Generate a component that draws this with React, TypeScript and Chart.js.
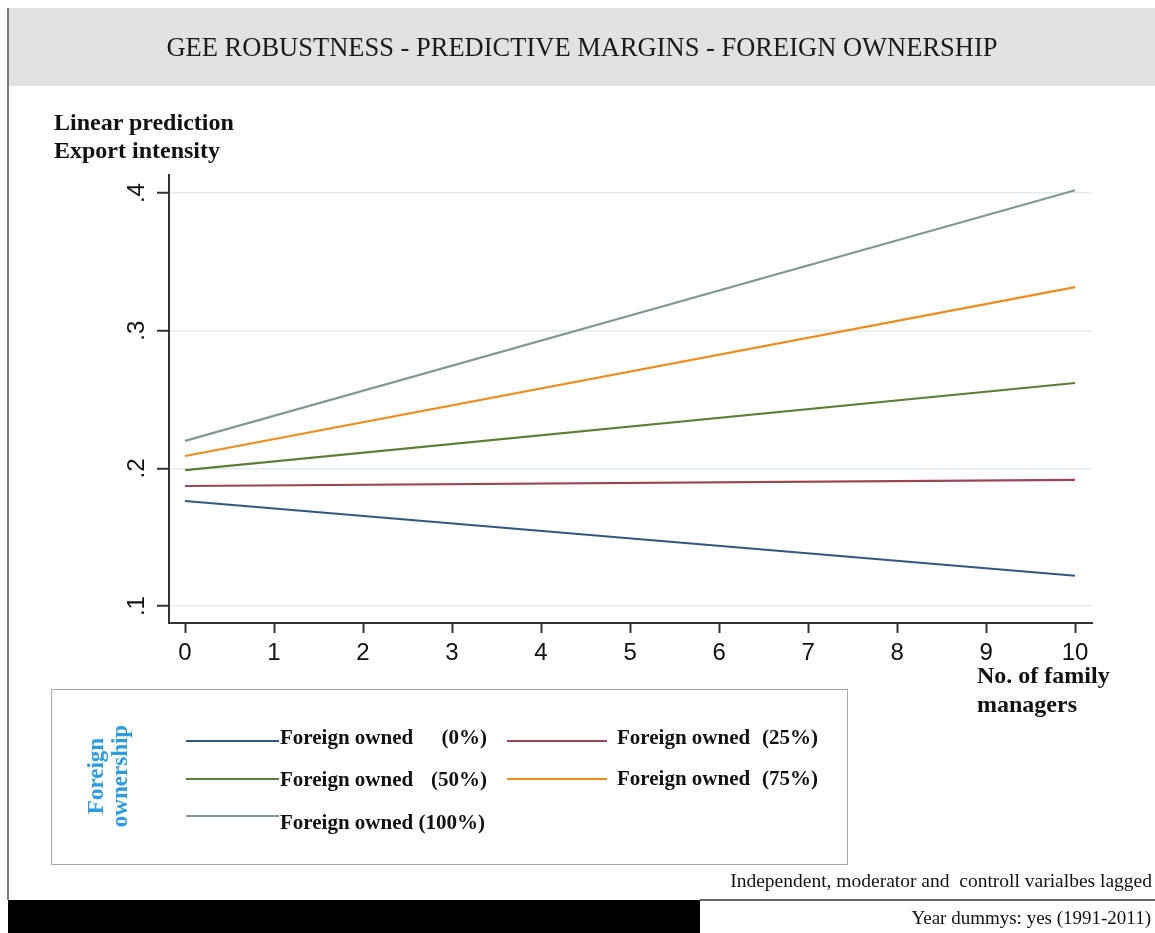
import React, { useEffect, useRef } from "react";
import { Chart, registerables } from "chart.js";

Chart.register(...registerables);

// ---- data ----
const X_VALUES = [0, 10];
const X_TICKS = [0, 1, 2, 3, 4, 5, 6, 7, 8, 9, 10];
const Y_TICKS = [0.1, 0.2, 0.3, 0.4];
const Y_TICK_LABELS = [".1", ".2", ".3", ".4"];

const SERIES_NAMES = [
  "Foreign owned (0%)",
  "Foreign owned (25%)",
  "Foreign owned (50%)",
  "Foreign owned (75%)",
  "Foreign owned (100%)",
];
const FO_0 = [0.1763, 0.122];
const FO_25 = [0.1872, 0.1916];
const FO_50 = [0.1988, 0.262];
const FO_75 = [0.209, 0.3317];
const FO_100 = [0.22, 0.402];

const SERIES_VALUES = [FO_0, FO_25, FO_50, FO_75, FO_100];
const SERIES_COLORS = ["#31577f", "#9b4452", "#5b7f35", "#f08c1c", "#7f9a94"];

const W = 1155;
const H = 933;
const SERIF = "'Liberation Serif', 'Times New Roman', serif";
const SANS = "'Liberation Sans', Arial, Helvetica, sans-serif";

const yLabelPlugin = {
  id: "yRotatedLabels",
  afterDraw(chart: any) {
    const s = chart.scales.y;
    const ctx = chart.ctx;
    ctx.save();
    ctx.fillStyle = "#111";
    ctx.font = `24px ${SANS}`;
    ctx.textAlign = "center";
    ctx.textBaseline = "middle";
    Y_TICKS.forEach((v, i) => {
      const y = s.getPixelForValue(v);
      ctx.save();
      ctx.translate(137, y);
      ctx.rotate(-Math.PI / 2);
      ctx.fillText(Y_TICK_LABELS[i], 0, 0);
      ctx.restore();
    });
    ctx.restore();
  },
};

type TP = {
  x: number;
  base: number;
  size: number;
  text: string;
  bold?: boolean;
  align?: "left" | "right" | "center";
  color?: string;
};

function T({ x, base, size, text, bold, align = "left", color = "#111" }: TP) {
  const lh = size * 1.2;
  const top = base - lh / 2 - 0.3375 * size;
  const style: React.CSSProperties = {
    position: "absolute",
    top,
    fontFamily: SERIF,
    fontSize: size,
    lineHeight: `${lh}px`,
    fontWeight: bold ? "bold" : "normal",
    color,
    whiteSpace: "pre",
  };
  if (align === "left") style.left = x;
  else if (align === "right") style.right = W - x;
  else {
    style.left = x;
    style.transform = "translateX(-50%)";
  }
  return <div style={style}>{text}</div>;
}

function LegLine({ x1, x2, y, color }: { x1: number; x2: number; y: number; color: string }) {
  return (
    <div
      style={{
        position: "absolute",
        left: x1,
        top: y - 1.25,
        width: x2 - x1,
        height: 2.5,
        background: color,
      }}
    />
  );
}

export default function App() {
  const ref = useRef<HTMLCanvasElement | null>(null);

  useEffect(() => {
    if (!ref.current) return;
    const chart = new Chart(ref.current, {
      type: "line",
      data: {
        datasets: SERIES_VALUES.map((vals, i) => ({
          label: SERIES_NAMES[i],
          data: X_VALUES.map((x, j) => ({ x, y: vals[j] })),
          borderColor: SERIES_COLORS[i],
          backgroundColor: SERIES_COLORS[i],
          borderWidth: 2.2,
          pointRadius: 0,
          tension: 0,
          fill: false,
        })),
      },
      options: {
        responsive: false,
        animation: false,
        events: [],
        layout: { padding: { left: 129, right: 63, top: 175, bottom: 260 } },
        plugins: {
          legend: { display: false },
          tooltip: { enabled: false },
          title: { display: false },
        },
        scales: {
          x: {
            type: "linear",
            min: -0.18,
            max: 10.19,
            afterBuildTicks: (s: any) => {
              s.ticks = X_TICKS.map((v) => ({ value: v }));
            },
            afterFit: (s: any) => {
              s.height = 50;
            },
            grid: {
              drawOnChartArea: false,
              drawTicks: true,
              tickLength: 10,
              tickColor: "#333",
              tickWidth: 2,
            },
            border: { display: true, color: "#333", width: 2 },
            ticks: {
              font: { family: SANS, size: 24 },
              color: "#111",
              padding: 6,
              maxRotation: 0,
              minRotation: 0,
              autoSkip: false,
              callback: (v: any) => String(v),
            },
          },
          y: {
            type: "linear",
            min: 0.0877,
            max: 0.4131,
            afterBuildTicks: (s: any) => {
              s.ticks = Y_TICKS.map((v) => ({ value: v }));
            },
            afterFit: (s: any) => {
              s.width = 40;
            },
            grid: {
              color: "#e3eced",
              lineWidth: 1.5,
              drawTicks: true,
              tickLength: 12,
              tickColor: "#333",
              tickWidth: 2,
            },
            border: { display: true, color: "#333", width: 2 },
            ticks: { display: false },
          },
        },
      },
      plugins: [yLabelPlugin],
    } as any);
    return () => chart.destroy();
  }, []);

  return (
    <div
      style={{
        position: "absolute",
        left: 0,
        top: 0,
        width: W,
        height: H,
        background: "#fff",
        overflow: "hidden",
      }}
    >
      {/* title band */}
      <div
        style={{
          position: "absolute",
          left: 8,
          top: 8,
          width: W - 8,
          height: 78,
          background: "#e1e2e4",
        }}
      />
      {/* left vertical rule */}
      <div
        style={{
          position: "absolute",
          left: 7,
          top: 8,
          width: 2,
          height: 892,
          background: "#7a7a7a",
        }}
      />
      <canvas
        ref={ref}
        width={W}
        height={H}
        style={{ position: "absolute", left: 0, top: 0, width: W, height: H }}
      />
      <T x={582} base={57} size={26.5} align="center" color="#1a1a1a"
        text="GEE ROBUSTNESS - PREDICTIVE MARGINS - FOREIGN OWNERSHIP" />

      <T x={54} base={130} size={24} bold text="Linear prediction" />
      <T x={54} base={158} size={24} bold text="Export intensity" />

      <T x={977} base={683} size={24} bold text="No. of family" />
      <T x={977} base={712} size={24} bold text="managers" />

      {/* legend box */}
      <div
        style={{
          position: "absolute",
          left: 51,
          top: 689,
          width: 797,
          height: 176,
          border: "1.5px solid #a8a8a8",
          boxSizing: "border-box",
        }}
      />
      <div
        style={{
          position: "absolute",
          left: 108,
          top: 776,
          transform: "translate(-50%, -50%) rotate(-90deg)",
          fontFamily: SERIF,
          fontSize: 23,
          lineHeight: "24px",
          fontWeight: "bold",
          color: "#2a9de0",
          textAlign: "center",
          whiteSpace: "nowrap",
        }}
      >
        Foreign
        <br />
        ownership
      </div>

      <LegLine x1={186} x2={279} y={741} color={SERIES_COLORS[0]} />
      <T x={280} base={745} size={21} bold text="Foreign owned" />
      <T x={487} base={745} size={21} bold align="right" text="(0%)" />

      <LegLine x1={507} x2={607} y={741} color={SERIES_COLORS[1]} />
      <T x={617} base={745} size={21} bold text="Foreign owned" />
      <T x={818} base={745} size={21} bold align="right" text="(25%)" />

      <LegLine x1={186} x2={279} y={779} color={SERIES_COLORS[2]} />
      <T x={280} base={787} size={21} bold text="Foreign owned" />
      <T x={487} base={787} size={21} bold align="right" text="(50%)" />

      <LegLine x1={507} x2={607} y={779} color={SERIES_COLORS[3]} />
      <T x={617} base={786} size={21} bold text="Foreign owned" />
      <T x={818} base={786} size={21} bold align="right" text="(75%)" />

      <LegLine x1={186} x2={279} y={816} color={SERIES_COLORS[4]} />
      <T x={280} base={830} size={21} bold text="Foreign owned (100%)" />

      {/* footer */}
      <T x={1152} base={887} size={19.5} align="right" color="#111"
        text="Independent, moderator and  controll varialbes lagged" />
      <div
        style={{
          position: "absolute",
          left: 700,
          top: 899,
          width: W - 700,
          height: 1.5,
          background: "#666",
        }}
      />
      <div
        style={{
          position: "absolute",
          left: 8,
          top: 900,
          width: 692,
          height: 33,
          background: "#000",
        }}
      />
      <T x={1151} base={925} size={19} align="right" color="#111"
        text="Year dummys: yes (1991-2011)" />
    </div>
  );
}
